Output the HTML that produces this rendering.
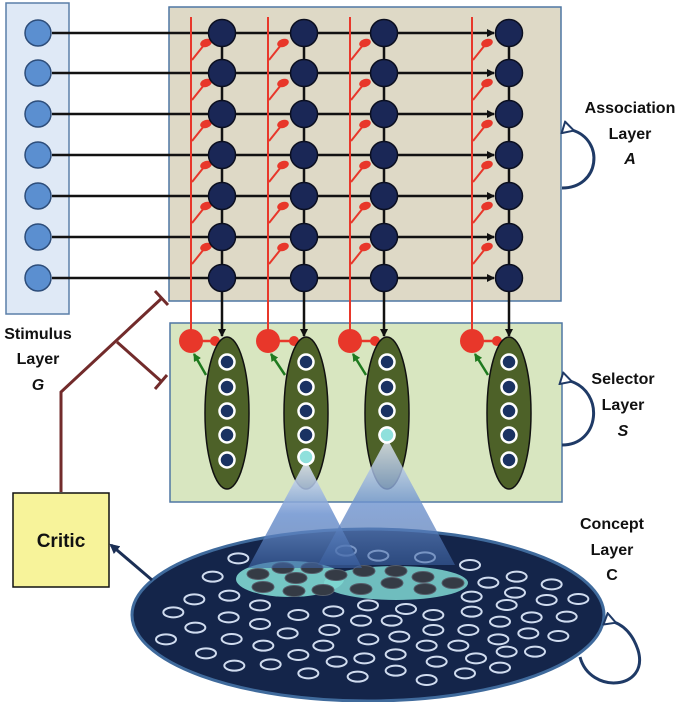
<!DOCTYPE html>
<html><head><meta charset="utf-8"><style>
html,body{margin:0;padding:0;background:#fff;}
svg{display:block;}
text{font-family:"Liberation Sans",Arial,sans-serif;font-weight:bold;font-size:16px;fill:#111;text-anchor:middle;}
</style></head><body>
<svg id="s" width="685" height="702" viewBox="0 0 685 702" xmlns="http://www.w3.org/2000/svg">
<defs>
<marker id="ah" markerWidth="8" markerHeight="8" refX="7" refY="4" orient="auto" markerUnits="userSpaceOnUse"><path d="M0,0 L8,4 L0,8 z" fill="#111"/></marker>
<marker id="ahn" markerWidth="10" markerHeight="10" refX="8" refY="5" orient="auto" markerUnits="userSpaceOnUse"><path d="M0,0 L10,5 L0,10 z" fill="#1b2f55"/></marker>
<marker id="ahg" markerWidth="8" markerHeight="8" refX="7" refY="4" orient="auto" markerUnits="userSpaceOnUse"><path d="M0,0 L8,4 L0,8 z" fill="#1f7a1f"/></marker>
<marker id="aho" markerWidth="14" markerHeight="14" refX="3" refY="7" orient="auto" markerUnits="userSpaceOnUse"><path d="M12,1 L1,7 L12,13 z" fill="#fff" stroke="#1f3a66" stroke-width="2"/></marker>
<linearGradient id="bm" x1="0" y1="0" x2="0" y2="1">
<stop offset="0" stop-color="#eef2fb" stop-opacity="0.95"/>
<stop offset="0.5" stop-color="#6f94d0" stop-opacity="0.95"/>
<stop offset="1" stop-color="#3d63a3" stop-opacity="0.7"/>
</linearGradient>
</defs>
<rect x="6" y="3" width="63" height="311" fill="#dfe9f6" stroke="#5a7fa8" stroke-width="1.5"/>
<rect x="169" y="7" width="392" height="294" fill="#ded9c6" stroke="#4f77a3" stroke-width="1.5"/>
<rect x="170" y="323" width="392" height="179" fill="#d8e6c0" stroke="#4f77a3" stroke-width="1.5"/>
<g id="g"></g>
<rect x="13" y="493" width="96" height="94" fill="#f7f39a" stroke="#111" stroke-width="1.5"/>
<text x="61" y="547" style="font-size:19px">Critic</text>
<g stroke="#722b2b" stroke-width="3" fill="none">
<polyline points="61,492 61,392 162,298"/>
<line x1="117" y1="342" x2="162" y2="382"/>
<line x1="155" y1="291" x2="168" y2="305"/>
<line x1="155" y1="389" x2="167" y2="375"/>
</g>
<text x="38" y="339">Stimulus</text><text x="38" y="364">Layer</text><text x="38" y="390" font-style="italic">G</text>
<text x="630" y="113">Association</text><text x="630" y="139">Layer</text><text x="630" y="164" font-style="italic">A</text>
<text x="623" y="384">Selector</text><text x="623" y="410">Layer</text><text x="623" y="436" font-style="italic">S</text>
<text x="612" y="529">Concept</text><text x="612" y="555">Layer</text><text x="612" y="580">C</text>
<path d="M562,188 C600,188 605,140 572,130" fill="none" stroke="#1f3a66" stroke-width="3" marker-end="url(#aho)"/>
<path d="M562,445 C600,445 605,392 570,381" fill="none" stroke="#1f3a66" stroke-width="3" marker-end="url(#aho)"/>
<path d="M580,657 C590,695 650,690 638,650 C632,632 622,625 614,622" fill="none" stroke="#1f3a66" stroke-width="3" marker-end="url(#aho)"/>
</svg>
<script>
var NS="http://www.w3.org/2000/svg",g=document.getElementById("g");
function el(t,a){var e=document.createElementNS(NS,t);for(var k in a)e.setAttribute(k,a[k]);g.appendChild(e);return e;}
var rows=[33,73,114,155,196,237,278],cols=[222,304,384,509],reds=[191,268,350,472],sel=[227,306,387,509];
rows.forEach(function(y){el("line",{x1:52,y1:y,x2:494,y2:y,stroke:"#111","stroke-width":2.5,"marker-end":"url(#ah)"});});
rows.forEach(function(y){el("circle",{cx:38,cy:y,r:13,fill:"#5b8fd0",stroke:"#2d4d7a","stroke-width":1.5});});
reds.forEach(function(x){
 el("line",{x1:x,y1:17,x2:x,y2:340,stroke:"#e8372a","stroke-width":2});
 for(var i=0;i<6;i++){var y=rows[i];
  el("line",{x1:x+1,y1:y+27,x2:x+13,y2:y+12,stroke:"#e8372a","stroke-width":2});
  el("ellipse",{cx:x+15,cy:y+10,rx:6,ry:4,fill:"#e8372a",transform:"rotate(-20 "+(x+15)+" "+(y+10)+")"});}
});
cols.forEach(function(x){
 el("line",{x1:x,y1:33,x2:x,y2:278,stroke:"#111","stroke-width":2.5});
 el("line",{x1:x,y1:290,x2:x,y2:336,stroke:"#111","stroke-width":2.5,"marker-end":"url(#ah)"});
 rows.forEach(function(y){el("circle",{cx:x,cy:y,r:13.5,fill:"#1a2756",stroke:"#0b0f20","stroke-width":1.5});});
});
sel.forEach(function(x,i){
 var rx=reds[i];
 el("line",{x1:rx,y1:341,x2:x-12,y2:341,stroke:"#e8372a","stroke-width":2.5});
 el("circle",{cx:x-12,cy:341,r:5,fill:"#e8372a"});
 el("circle",{cx:rx,cy:341,r:12,fill:"#e8372a"});
 el("ellipse",{cx:x,cy:413,rx:22,ry:76,fill:"#4d6128",stroke:"#111","stroke-width":1.5});
 el("line",{x1:x-21,y1:375,x2:rx+3,y2:354,stroke:"#1f7a1f","stroke-width":2.5,"marker-end":"url(#ahg)"});
 [362,387,411,435,460].forEach(function(y,j){
  var cy=(i==1&&j==4)?457:(i==2&&j==3?435:y);
  if(i==2&&j==4)return;
  var cyan=(i==1&&j==4)||(i==2&&j==3);
  el("circle",{cx:x,cy:cy,r:7.5,fill:cyan?"#8fe0dc":"#1a3262",stroke:"#fff","stroke-width":2.5});
 });
});
el("ellipse",{cx:368,cy:615,rx:236,ry:86,fill:"#14254a",stroke:"#3f6a9c","stroke-width":3});
el("ellipse",{cx:290,cy:579,rx:54,ry:18,fill:"#7fd8d2","fill-opacity":0.9});
el("ellipse",{cx:396,cy:583,rx:72,ry:17,fill:"#7fd8d2","fill-opacity":0.85});
var dk=[[258,574],[283,568],[312,568],[296,578],[336,575],[364,571],[396,571],[263,587],[294,591],[323,590],[361,589],[392,583],[423,577],[425,589],[453,583]];
dk.forEach(function(p){el("ellipse",{cx:p[0],cy:p[1],rx:11,ry:5.5,fill:"#353b45",stroke:"#555d6a","stroke-width":1});});
var z8=[[325,175],[648,152],[745,167],[248,230],[193,298],[298,287],[130,337],[390,316],[505,345],[610,334],[714,316],[828,327],[196,383],[296,352],[390,372],[473,400],[598,390],[693,362],[785,362],[108,418],[305,417],[400,437],[580,437],[715,418],[808,410],[228,460],[505,465],[620,485],[703,475],[797,463],[313,497],[422,493],[535,520],[683,530],[797,512]];
var z9=[[75,172],[210,195],[265,248],[350,230],[455,253],[215,290],[345,278],[440,300],[535,297],[100,345],[215,335],[320,315],[395,352],[500,350],[100,390],[205,390],[300,365],[385,400],[475,408],[80,437],[175,437],[295,418],[320,455],[405,455],[110,485],[228,475],[80,540],[195,520],[300,503]];
z8.forEach(function(p){el("ellipse",{cx:130+p[0]/3,cy:500+p[1]/3,rx:10,ry:5,fill:"none",stroke:"#d0dcef","stroke-width":2});});
z9.forEach(function(p){el("ellipse",{cx:400+p[0]/3,cy:500+p[1]/3,rx:10,ry:5,fill:"none",stroke:"#d0dcef","stroke-width":2});});
el("polygon",{points:"306,460 248,568 362,568",fill:"url(#bm)","fill-opacity":0.9});
el("polygon",{points:"387,438 318,565 455,565",fill:"url(#bm)","fill-opacity":0.85});
el("circle",{cx:306,cy:457,r:7.5,fill:"#8fe0dc",stroke:"#fff","stroke-width":2.5});
el("circle",{cx:387,cy:435,r:7.5,fill:"#8fe0dc",stroke:"#fff","stroke-width":2.5});
el("line",{x1:152,y1:580,x2:111,y2:545,stroke:"#1b2f55","stroke-width":3,"marker-end":"url(#ahn)"});
</script>
</body></html>
